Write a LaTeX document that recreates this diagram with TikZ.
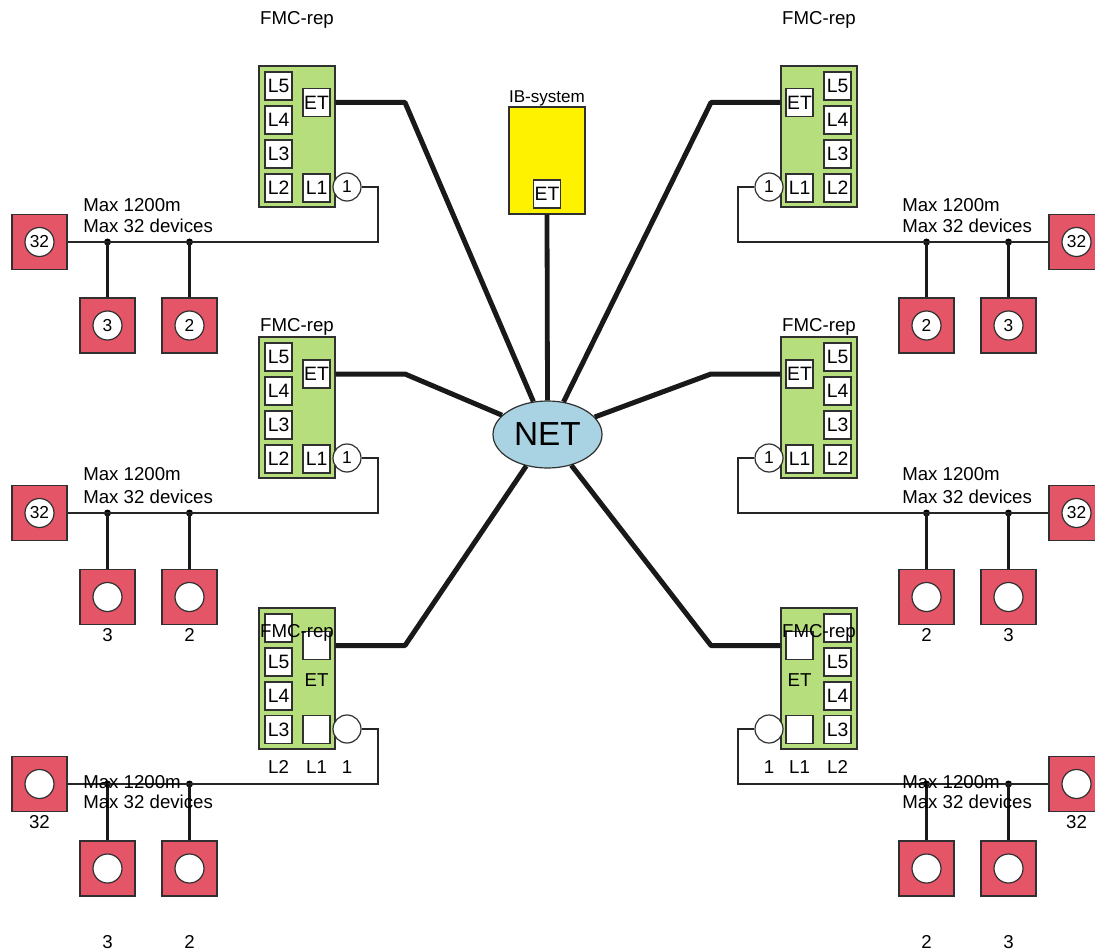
\documentclass[tikz,border=0pt]{standalone}
\usepackage{fontspec}
\setmainfont{Liberation Sans}
\usetikzlibrary{shapes.geometric}
\definecolor{fmcgreen}{HTML}{B7DE7D}
\definecolor{devred}{HTML}{E35567}
\definecolor{netblue}{HTML}{A9D3E2}
\definecolor{edgegray}{HTML}{303030}
\newcommand\xm[1]{558+\s*(#1-558)}
\begin{document}
\begin{tikzpicture}[x=0.75pt,y=-0.75pt,
 fmc/.style={draw=edgegray,line width=1.1pt,fill=fmcgreen,minimum width=57pt,minimum height=105.75pt,inner sep=0pt},
 slot/.style={draw=edgegray,line width=0.9pt,fill=white,minimum width=20.25pt,minimum height=21pt,inner sep=0pt,font=\fontsize{14.5}{15}\selectfont},
 port/.style={circle,draw=edgegray,line width=0.9pt,fill=white,minimum size=21pt,inner sep=0pt,font=\fontsize{13}{13}\selectfont},
 dev/.style={draw=edgegray,line width=1.2pt,fill=devred,minimum size=41.25pt,inner sep=0pt},
 devc/.style={circle,draw=edgegray,line width=0.9pt,fill=white,minimum size=21.75pt,inner sep=0pt,font=\fontsize{13}{13}\selectfont},
 lbl/.style={inner sep=0pt,font=\fontsize{14}{15}\selectfont},
 trunk/.style={line width=3.75pt,draw=black!90,line join=round},
 bus/.style={line width=1.7pt,draw=black!85},
 drop/.style={line width=2.3pt,draw=black!90},
 junction/.style={circle,fill=black,inner sep=0pt,minimum size=5.25pt},
]
\useasboundingbox (0,0) rectangle (1095,952);

% central network
\node[ellipse,draw=edgegray,line width=0.9pt,fill=netblue,minimum width=81.75pt,minimum height=50.25pt,inner sep=0pt,font=\fontsize{25}{25}\selectfont] (net) at (547.5,434.5) {NET};
\node[draw=edgegray,line width=1.1pt,fill=yellow,minimum width=57pt,minimum height=80.25pt,inner sep=0pt] (ib) at (547,160.5) {};
\node[lbl,font=\fontsize{12.8}{13}\selectfont] (iblbl) at (547,98) {IB-system};
\node[slot] (ibet) at (547,194) {ET};
\draw[line width=3.6pt,draw=black!90] (ib.south) -- (net.north);

\foreach \s/\p/\mx/\e in {1/l/83/east,(-1)/r/902/west}{
 % ---------- top row ----------
 \node[lbl] (\p Albl) at ({\xm{297}},20) {FMC-rep};
 \node[fmc] (\p boxA) at ({\xm{297}},136.5) {};
 \node[slot] (\p A5) at ({\xm{278.5}},86) {L5};
 \node[slot] (\p A4) at ({\xm{278.5}},120) {L4};
 \node[slot] (\p A3) at ({\xm{278.5}},154) {L3};
 \node[slot] (\p A2) at ({\xm{278.5}},188) {L2};
 \node[slot] (\p A1) at ({\xm{316.5}},188) {L1};
 \node[slot] (\p Aet) at ({\xm{316.5}},102.5) {ET};
 \node[port] (\p Ap) at ({\xm{347}},187) {1};
 \coordinate (\p Abend) at ({\xm{405}},102.5);
 \coordinate (\p Awa) at ({\xm{378}},187);
 \coordinate (\p Awb) at ({\xm{378}},242);
 \node[dev] (\p Ad32) at ({\xm{39.5}},242) {};
 \node[devc] (\p Ad32c) at (\p Ad32) {32};
 \node[dev] (\p Ad3) at ({\xm{107.5}},325.5) {};
 \node[devc] (\p Ad3c) at (\p Ad3) {3};
 \node[dev] (\p Ad2) at ({\xm{189.5}},325.5) {};
 \node[devc] (\p Ad2c) at (\p Ad2) {2};
 \node[junction] (\p Aj3) at ({\xm{107.5}},242) {};
 \node[junction] (\p Aj2) at ({\xm{189.5}},242) {};
 \node[lbl,anchor=west] (\p Am1) at (\mx,205) {Max 1200m};
 \node[lbl,anchor=west] (\p Am2) at (\mx,226) {Max 32 devices};
 \draw[trunk] (\p Aet -| \p boxA.\e) -- (\p Abend) -- (net);
 \draw[bus] (\p Ap) -- (\p Awa) -- (\p Awb) -- (\p Ad32);
 \draw[drop] (\p Aj3.center) -- (\p Ad3);
 \draw[drop] (\p Aj2.center) -- (\p Ad2);

 % ---------- middle row ----------
 \node[lbl] (\p Blbl) at ({\xm{297}},327) {FMC-rep};
 \node[fmc] (\p boxB) at ({\xm{297}},407.5) {};
 \node[slot] (\p B5) at ({\xm{278.5}},357) {L5};
 \node[slot] (\p B4) at ({\xm{278.5}},391) {L4};
 \node[slot] (\p B3) at ({\xm{278.5}},425) {L3};
 \node[slot] (\p B2) at ({\xm{278.5}},459) {L2};
 \node[slot] (\p B1) at ({\xm{316.5}},459) {L1};
 \node[slot] (\p Bet) at ({\xm{316.5}},374) {ET};
 \node[port] (\p Bp) at ({\xm{347}},458) {1};
 \coordinate (\p Bbend) at ({\xm{405}},374);
 \coordinate (\p Bwa) at ({\xm{378}},458);
 \coordinate (\p Bwb) at ({\xm{378}},513);
 \node[dev] (\p Bd32) at ({\xm{39.5}},513) {};
 \node[devc] (\p Bd32c) at (\p Bd32) {32};
 \node[dev] (\p Bd3) at ({\xm{107.5}},597) {};
 \node[devc] (\p Bd3c) at (\p Bd3) {};
 \node[dev] (\p Bd2) at ({\xm{189.5}},597) {};
 \node[devc] (\p Bd2c) at (\p Bd2) {};
 \node[lbl] (\p Bl3) at ({\xm{107.5}},635) {3};
 \node[lbl] (\p Bl2) at ({\xm{189.5}},635) {2};
 \node[junction] (\p Bj3) at ({\xm{107.5}},513) {};
 \node[junction] (\p Bj2) at ({\xm{189.5}},513) {};
 \node[lbl,anchor=west] (\p Bm1) at (\mx,474) {Max 1200m};
 \node[lbl,anchor=west] (\p Bm2) at (\mx,497) {Max 32 devices};
 \draw[trunk] (\p Bet -| \p boxB.\e) -- (\p Bbend) -- (net);
 \draw[bus] (\p Bp) -- (\p Bwa) -- (\p Bwb) -- (\p Bd32);
 \draw[drop] (\p Bj3.center) -- (\p Bd3);
 \draw[drop] (\p Bj2.center) -- (\p Bd2);

 % ---------- bottom row ----------
 \node[fmc] (\p boxC) at ({\xm{297}},678.5) {};
 \node[slot] (\p Ctop) at ({\xm{278.5}},628) {};
 \node[slot] (\p Cet) at ({\xm{316.5}},645.5) {};
 \node[slot] (\p C5) at ({\xm{278.5}},662) {L5};
 \node[slot] (\p C4) at ({\xm{278.5}},696) {L4};
 \node[slot] (\p C3) at ({\xm{278.5}},729.5) {L3};
 \node[slot] (\p C1) at ({\xm{316.5}},729.5) {};
 \node[lbl] (\p Clbl) at ({\xm{297}},633) {FMC-rep};
 \node[lbl] (\p Cettxt) at ({\xm{316.5}},680) {ET};
 \node[port] (\p Cp) at ({\xm{347}},729) {};
 \node[lbl] (\p CL2) at ({\xm{278.5}},767) {L2};
 \node[lbl] (\p CL1) at ({\xm{316.5}},767) {L1};
 \node[lbl] (\p Cone) at ({\xm{347}},767) {1};
 \coordinate (\p Cbend) at ({\xm{405}},645.5);
 \coordinate (\p Cwa) at ({\xm{378}},729);
 \coordinate (\p Cwb) at ({\xm{378}},784);
 \node[dev] (\p Cd32) at ({\xm{39.5}},784) {};
 \node[devc] (\p Cd32c) at (\p Cd32) {};
 \node[lbl] (\p Cl32) at ({\xm{39.5}},822) {32};
 \node[dev] (\p Cd3) at ({\xm{107.5}},868.5) {};
 \node[devc] (\p Cd3c) at (\p Cd3) {};
 \node[dev] (\p Cd2) at ({\xm{189.5}},868.5) {};
 \node[devc] (\p Cd2c) at (\p Cd2) {};
 \node[lbl] (\p Cl3) at ({\xm{107.5}},942) {3};
 \node[lbl] (\p Cl2) at ({\xm{189.5}},942) {2};
 \node[junction] (\p Cj3) at ({\xm{107.5}},784) {};
 \node[junction] (\p Cj2) at ({\xm{189.5}},784) {};
 \draw[trunk] (\p Cet -| \p boxC.\e) -- (\p Cbend) -- (net);
 \draw[bus] (\p Cp) -- (\p Cwa) -- (\p Cwb) -- (\p Cd32);
 \draw[drop] (\p Cj3.center) -- (\p Cd3);
 \draw[drop] (\p Cj2.center) -- (\p Cd2);
 \node[lbl,anchor=west] (\p Cm1) at (\mx,782) {Max 1200m};
 \node[lbl,anchor=west] (\p Cm2) at (\mx,802) {Max 32 devices};
}
\end{tikzpicture}
\end{document}
